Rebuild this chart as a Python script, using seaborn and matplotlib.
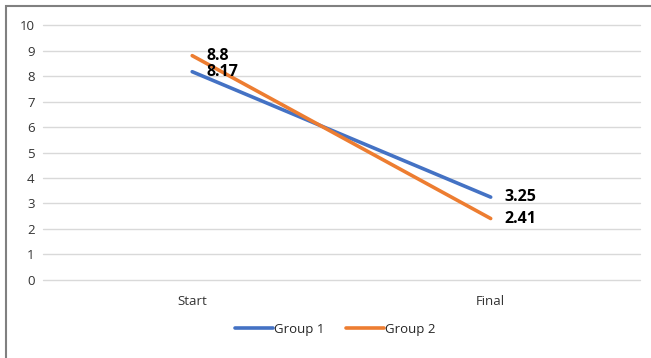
import matplotlib
matplotlib.use("Agg")
import matplotlib.pyplot as plt
from matplotlib.patches import Rectangle
import seaborn as sns
import pandas as pd

categories = ["Start", "Final"]
group1 = [8.17, 3.25]
group2 = [8.8, 2.41]
series_names = ["Group 1", "Group 2"]
colors = ["#4472C4", "#ED7D31"]
y_ticks = list(range(0, 11))

sns.set_style("white")
plt.rcParams["font.family"] = ["Open Sans", "DejaVu Sans"]

df = pd.DataFrame({
    "stage": categories * 2,
    "pos": [0, 1] * 2,
    "value": group1 + group2,
    "series": [series_names[0]] * 2 + [series_names[1]] * 2,
})

fig = plt.figure(figsize=(6.51, 3.58), dpi=100)
ax = fig.add_axes([0.066, 0.218, 0.917, 0.712])

sns.lineplot(data=df, x="pos", y="value", hue="series", palette=colors,
             linewidth=2.6, ax=ax, legend=False, zorder=3)

for vals, name in zip([group1, group2], series_names):
    for i, v in enumerate(vals):
        ax.annotate(f"{v:g}", (i, v), xytext=(10, 0), textcoords="offset points",
                    ha="left", va="center", fontsize=11.5, fontweight="bold",
                    color="#000000", zorder=4)

ax.set_xlim(-0.5, 1.5)
ax.set_ylim(0, 10)
ax.set_yticks(y_ticks)
ax.set_xticks([0, 1])
ax.set_xticklabels(categories)
ax.set_xlabel("")
ax.set_ylabel("")
ax.grid(axis="y", color="#d9d9d9", linewidth=1)
for gl in ax.get_ygridlines():
    gl.set_clip_on(False)
ax.set_axisbelow(True)
for s in ax.spines.values():
    s.set_visible(False)
ax.tick_params(axis="both", length=0, labelsize=9.5, colors="#333333")
ax.tick_params(axis="x", pad=11)
ax.tick_params(axis="y", pad=6)

handles = [plt.Line2D([], [], color=c, linewidth=2.6) for c in colors]
fig.legend(handles, series_names, loc="center", bbox_to_anchor=(0.515, 0.08),
           ncol=2, frameon=False, fontsize=9.5, handlelength=2.9,
           handletextpad=0.1, columnspacing=1.6)

fig.patches.append(Rectangle((6 / 651, -0.1), 1.2, 1 - 6 / 358 + 0.1,
                             transform=fig.transFigure, fill=False,
                             edgecolor="#808080", linewidth=1.5))

fig.savefig("out.png", dpi=100)
